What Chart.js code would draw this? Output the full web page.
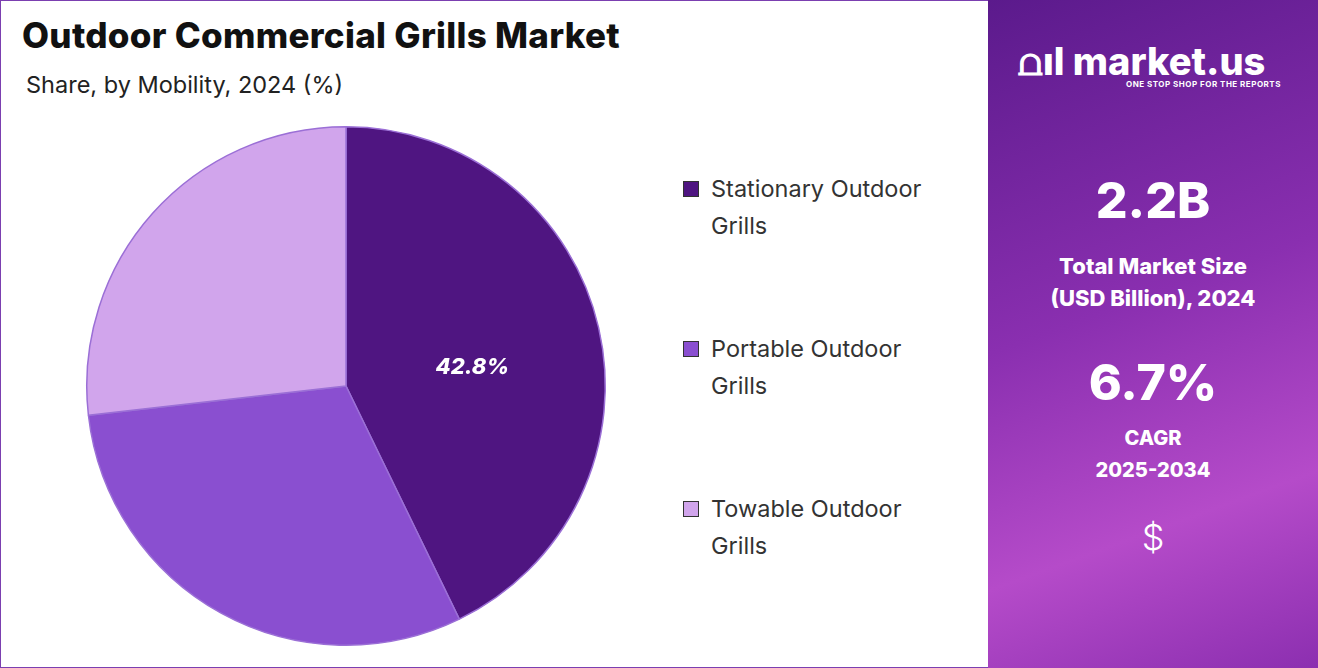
<!DOCTYPE html>
<html><head><meta charset="utf-8">
<script src="https://cdn.jsdelivr.net/npm/chart.js@4.4.1/dist/chart.umd.min.js"></script>
<style>
body{margin:0;width:1318px;height:668px;overflow:hidden;font-family:Inter,"Open Sans",sans-serif;background:#fff}
#frame{position:absolute;left:0;top:0;width:1316px;height:666px;border:1px solid #7b3fb0;}
#title{position:absolute;left:22px;top:14px;font-size:35px;font-weight:800;color:#111;letter-spacing:0.3px}
#sub{position:absolute;left:26px;top:70px;font-size:23.5px;color:#222}
#cw{position:absolute;left:82px;top:122px;width:528px;height:528px}
#legend{position:absolute;left:683px;top:170px;font-size:23.5px;color:#333;line-height:37px}
.li{position:relative;padding-left:28px;margin-bottom:86px}
.li span{position:absolute;left:0;top:11px;width:16px;height:16px;border:1px solid #333;box-sizing:border-box}
#panel{position:absolute;left:988px;top:0;width:330px;height:668px;background:linear-gradient(160deg,#5b1a8c 0%,#8a2fb0 45%,#b54bc9 75%,#8c2fb0 100%);color:#fff;text-align:center}
.big{font-size:50px;font-weight:800}
.mid{font-size:22px;font-weight:800;line-height:32px}
</style></head><body>
<div id="frame"></div>
<div id="title">Outdoor Commercial Grills Market</div>
<div id="sub">Share, by Mobility, 2024 (%)</div>
<div id="cw"><canvas id="c"></canvas></div>
<div id="legend"></div>
<div id="panel">
 <div style="position:absolute;left:30px;top:38px;width:280px;text-align:left">
  <span style="font-size:38px;font-weight:800">⩍ıl market.us</span>
  <div style="font-size:8px;font-weight:700;letter-spacing:0.5px;margin-left:108px;margin-top:-6px">ONE STOP SHOP FOR THE REPORTS</div>
 </div>
 <div class="big" style="position:absolute;top:170px;width:100%">2.2B</div>
 <div class="mid" style="position:absolute;top:250px;width:100%">Total Market Size<br>(USD Billion), 2024</div>
 <div class="big" style="position:absolute;top:352px;width:100%">6.7%</div>
 <div class="mid" style="position:absolute;top:422px;width:100%;font-size:20px">CAGR<br>2025-2034</div>
 <div style="position:absolute;top:515px;width:100%;font-size:36px;font-weight:300">$</div>
</div>
<script>
const categories=["Stationary Outdoor Grills","Portable Outdoor Grills","Towable Outdoor Grills"];
const legendLines=[["Stationary Outdoor","Grills"],["Portable Outdoor","Grills"],["Towable Outdoor","Grills"]];
const values=[42.8,30.4,26.8];
const colors=["#4f1581","#8a4fd0","#d1a5ec"];
const shownLabels=["42.8%","",""];
document.getElementById('legend').innerHTML=legendLines.map((l,i)=>`<div class="li"><span style="background:${colors[i]}"></span>${l[0]}<br>${l[1]}</div>`).join('');
const labelPlugin={id:'lbl',afterDatasetsDraw(ch){const ctx=ch.ctx;ch.getDatasetMeta(0).data.forEach((a,i)=>{if(!shownLabels[i])return;const p=a.tooltipPosition();ctx.save();ctx.fillStyle='#fff';ctx.font='italic 800 22px Inter, sans-serif';ctx.textAlign='center';ctx.textBaseline='middle';ctx.fillText(shownLabels[i],p.x,p.y+10);ctx.restore();});}};
new Chart(document.getElementById('c'),{type:'pie',data:{labels:categories,datasets:[{data:values,backgroundColor:colors,borderColor:'#9b6fd6',borderWidth:1.5}]},
options:{responsive:true,maintainAspectRatio:false,animation:false,layout:{padding:4},plugins:{legend:{display:false},tooltip:{enabled:false}}},plugins:[labelPlugin]});
</script>
</body></html>
